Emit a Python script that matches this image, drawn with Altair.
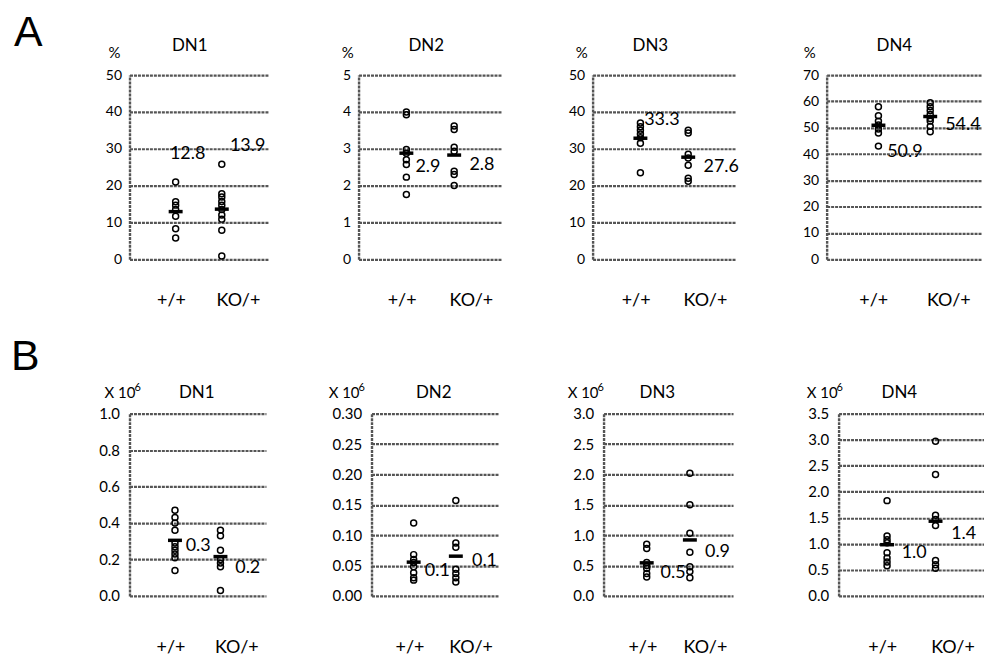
import altair as alt
import pandas as pd

# ---------------- data ----------------
groups = ["+/+", "KO/+"]
panel_names = ["DN1", "DN2", "DN3", "DN4"]

# Row A: percentages
a_wt = [
    [21.0, 15.6, 14.7, 13.5, 11.7, 8.3, 5.8],
    [4.0, 3.92, 2.98, 2.88, 2.7, 2.57, 2.23, 1.76],
    [37.0, 36.0, 35.0, 34.0, 33.0, 31.5, 23.5],
    [58.0, 54.5, 52.5, 51.0, 49.5, 48.0, 43.0],
]
a_ko = [
    [25.8, 17.8, 16.9, 15.7, 14.7, 13.5, 12.0, 10.9, 7.9, 0.9],
    [3.62, 3.52, 3.04, 2.93, 2.39, 2.30, 2.0],
    [35.0, 34.3, 28.5, 27.5, 25.5, 22.0, 21.2],
    [59.5, 58.0, 56.5, 55.0, 53.5, 52.5, 50.5, 48.5],
]
a_labels = [["12.8", "13.9"], ["2.9", "2.8"], ["33.3", "27.6"], ["50.9", "54.4"]]
a_label_x = [[1.26, 2.56], [1.45, 2.58], [1.45, 2.69], [1.51, 2.63]]
a_label_y = [[28.6, 30.8], [2.5, 2.55], [37.9, 25.0], [40.6, 51.0]]
a_ymax = [50, 5, 50, 70]
a_step = [10, 1, 10, 10]

# Row B: absolute numbers (x 10^6)
b_wt = [
    [0.47, 0.43, 0.40, 0.36, 0.29, 0.27, 0.25, 0.23, 0.21, 0.14],
    [0.12, 0.068, 0.06, 0.055, 0.048, 0.038, 0.03, 0.026],
    [0.85, 0.78, 0.55, 0.50, 0.45, 0.37, 0.31],
    [1.83, 1.15, 1.08, 1.02, 0.83, 0.73, 0.65, 0.58],
]
b_ko = [
    [0.36, 0.33, 0.25, 0.20, 0.18, 0.16, 0.03],
    [0.157, 0.087, 0.08, 0.044, 0.037, 0.03, 0.023],
    [2.02, 1.5, 1.03, 0.72, 0.48, 0.40, 0.30],
    [2.97, 2.33, 1.55, 1.47, 1.35, 0.68, 0.60, 0.53],
]
b_labels = [["0.3", "0.2"], ["0.1", "0.1"], ["0.5", "0.9"], ["1.0", "1.4"]]
b_label_x = [[1.51, 2.6], [1.56, 2.68], [1.61, 2.64], [1.56, 2.58]]
b_label_y = [[0.274, 0.155], [0.041, 0.058], [0.373, 0.719], [0.82, 1.19]]
b_ymax = [1.0, 0.30, 3.0, 3.5]
b_step = [0.2, 0.05, 0.5, 0.5]
b_fmt = [".1f", ".2f", ".1f", ".1f"]

# ---------------- styling / layout ----------------
FONT = "Lato"
INK = "#000000"
GRID = "#555555"
a_width = [139, 144, 144, 156]
b_width = [137, 127, 130, 146]
a_title_dx = [-9, -4, -14, -10]
b_title_dx = [-1, -1, -11, -12]
a_ytitle_x = [-21, -17, -17, -23]
b_ytitle_x = [-25, -43, -36, -32]


def note(text, x, y, size, align="left", font=FONT):
    return alt.Chart(pd.DataFrame({"t": [text]})).mark_text(
        font=font, fontSize=size, align=align, baseline="alphabetic",
        color=INK).encode(x=alt.value(x), y=alt.value(y), text="t:N")


def panel(name, wt, ko, labels, lab_x, lab_y, ymax, step, fmt, width, height,
          ytitle_x, ytitle_y, title_dx, title_y, tick_font, tick_pad, cat_pad,
          row):
    n = int(round(ymax / step))
    ticks = [round(i * step, 4) for i in range(n + 1)]
    df = pd.DataFrame({"g": [1] * len(wt) + [2] * len(ko), "v": wt + ko})
    lab = pd.DataFrame({"x": lab_x, "y": lab_y, "t": labels})

    xs = alt.Scale(domain=[0, 3], nice=False, zero=False)
    ys = alt.Scale(domain=[0, ymax], nice=False, zero=True)
    xax = alt.Axis(
        values=[0.9, 2.35],
        labelExpr=f"datum.value < 1.5 ? '{groups[0]}' : '{groups[1]}'",
        domain=False, ticks=False, grid=False, title=None,
        labelPadding=cat_pad, labelFontSize=18, labelFont=FONT,
        labelColor=INK, labelOverlap=False,
    )
    yax = alt.Axis(
        values=ticks, format=fmt, grid=True, gridColor=GRID, gridWidth=2.2,
        gridDash=[3, 1], ticks=False, domain=True, domainColor=GRID,
        domainWidth=2.4, domainDash=[3, 1], labelFontSize=tick_font,
        labelFont=FONT, labelColor=INK, labelPadding=tick_pad,
        labelOverlap=False, title=None,
    )
    X = alt.X("g:Q", scale=xs, axis=xax)
    base = alt.Chart(df)
    pts = base.mark_point(shape="circle", filled=False, size=36, color="black",
                          strokeWidth=1.5, opacity=1).encode(
        x=X, y=alt.Y("v:Q", scale=ys, axis=yax),
    )
    bar = base.mark_tick(orient="horizontal", size=14, thickness=3.5,
                         color="black", opacity=1).encode(
        x=X, y=alt.Y("mean(v):Q", scale=ys, axis=yax)
    )
    txt = alt.Chart(lab).mark_text(fontSize=18, font=FONT, align="center",
                                   baseline="middle", color=INK).encode(
        x=alt.X("x:Q", scale=xs, axis=xax),
        y=alt.Y("y:Q", scale=ys, axis=yax), text="t:N"
    )
    layers = [pts, bar, txt,
              note(name, width / 2 + title_dx, title_y, 17, align="center")]
    if row == "A":
        layers.append(note("%", ytitle_x, ytitle_y, 15))
    else:
        layers.append(note("X 10", ytitle_x, ytitle_y, 15))
        layers.append(note("6", ytitle_x + 30, ytitle_y - 7, 11))
    return alt.layer(*layers).properties(width=width, height=height)


row_a = []
for i in range(4):
    p = panel(panel_names[i], a_wt[i], a_ko[i], a_labels[i], a_label_x[i],
              a_label_y[i], a_ymax[i], a_step[i], "d", a_width[i], 185,
              a_ytitle_x[i], -17, a_title_dx[i], -24, 14, 8, 32, "A")
    if i == 0:
        p = alt.layer(p, note("A", -116, -29, 43, font="Liberation Sans"))
    row_a.append(p)

row_b = []
for i in range(4):
    p = panel(panel_names[i], b_wt[i], b_ko[i], b_labels[i], b_label_x[i],
              b_label_y[i], b_ymax[i], b_step[i], b_fmt[i], b_width[i], 183,
              b_ytitle_x[i], -16, b_title_dx[i], -16, 15, 10, 43, "B")
    if i == 0:
        p = alt.layer(p, note("B", -119, -44, 43, font="Liberation Sans"))
    row_b.append(p)

top = alt.hconcat(*row_a, spacing=91, bounds="flush")
bottom = alt.hconcat(*row_b, spacing=106, bounds="flush")

chart = alt.vconcat(top, bottom, spacing=27).properties(
    padding={"left": 3, "top": 3, "right": 0, "bottom": 0}
).configure_view(stroke=None)

chart.save("out.html", embed_options={"renderer": "svg", "actions": False})
